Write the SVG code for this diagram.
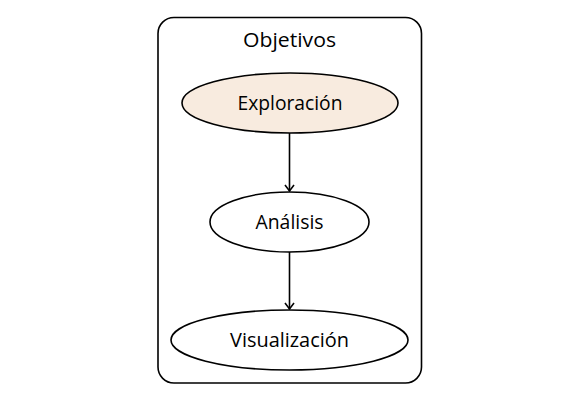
<svg xmlns="http://www.w3.org/2000/svg" width="576" height="411" viewBox="0 0 576 411">
  <style>
    .node ellipse { stroke: #000; stroke-width: 1.6; }
    .label { font-family: "Open Sans", "Liberation Sans", sans-serif; font-size: 19.5px; fill: #000; text-anchor: middle; }
    .edge { stroke: #000; stroke-width: 1.6; fill: none; }
  </style>
  <defs>
    <marker id="vee" markerWidth="12" markerHeight="12" refX="10" refY="6" orient="auto" markerUnits="userSpaceOnUse">
      <polyline points="4,1.5 10,6 4,10.5" fill="none" stroke="#000" stroke-width="1.6"/>
    </marker>
  </defs>
  <rect width="576" height="411" fill="#fff"/>
  <g id="cluster-objetivos">
    <rect x="158" y="17.5" width="263.5" height="365.5" rx="16" ry="16" fill="none" stroke="#000" stroke-width="1.6"/>
    <text class="label" x="289.5" y="47" textLength="93" lengthAdjust="spacingAndGlyphs">Objetivos</text>
  </g>
  <g id="connectors">
    <line class="edge" x1="289.5" y1="133" x2="289.5" y2="191" marker-end="url(#vee)"/>
    <line class="edge" x1="289.5" y1="252" x2="289.5" y2="309" marker-end="url(#vee)"/>
  </g>
  <g id="exploracion" class="node">
    <ellipse cx="290" cy="103" rx="108" ry="30" fill="#f8ebdf"/>
    <text class="label" x="290" y="109.5" textLength="105" lengthAdjust="spacingAndGlyphs">Exploración</text>
  </g>
  <g id="analisis" class="node">
    <ellipse cx="289.5" cy="222" rx="79.5" ry="30" fill="#fff"/>
    <text class="label" x="289.5" y="228.5" textLength="68" lengthAdjust="spacingAndGlyphs">Análisis</text>
  </g>
  <g id="visualizacion" class="node">
    <ellipse cx="289.5" cy="340" rx="118.5" ry="30" fill="#fff"/>
    <text class="label" x="289.5" y="346.5" textLength="119" lengthAdjust="spacingAndGlyphs">Visualización</text>
  </g>
</svg>
